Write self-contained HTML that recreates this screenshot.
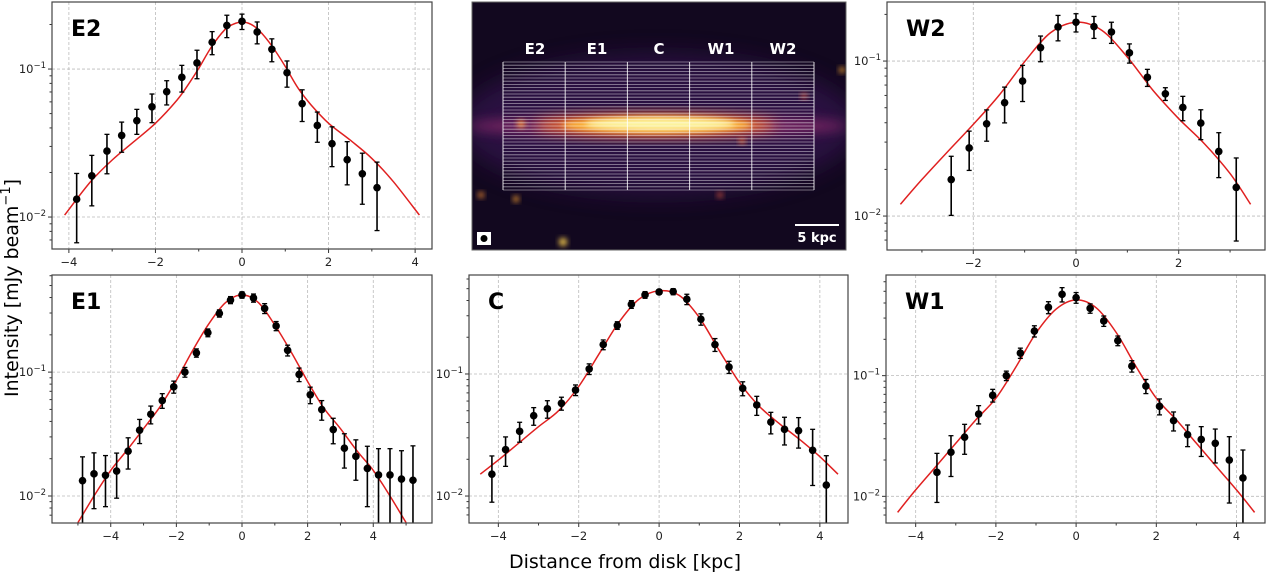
<!DOCTYPE html>
<html><head><meta charset="utf-8"><style>
html,body{margin:0;padding:0;background:#fff;}
svg{display:block;font-family:"DejaVu Sans","Liberation Sans",sans-serif;}
</style></head><body>
<svg id="fig" width="1268" height="572" viewBox="0 0 1268 572">
<defs>
<filter id="blur3" x="-50%" y="-50%" width="200%" height="200%"><feGaussianBlur stdDeviation="3"/></filter>
<filter id="blur6" x="-50%" y="-50%" width="200%" height="200%"><feGaussianBlur stdDeviation="6"/></filter>
<filter id="blur12" x="-50%" y="-50%" width="200%" height="200%"><feGaussianBlur stdDeviation="12"/></filter>
<clipPath id="imgclip"><rect x="472" y="2" width="374" height="248"/></clipPath>
</defs>
<g id="image-panel">
<g clip-path="url(#imgclip)">
<rect x="472" y="2" width="374" height="248" fill="#12081f"/>
<ellipse cx="658" cy="125" rx="200" ry="70" fill="#3a1458" opacity="0.6" filter="url(#blur12)"/>
<ellipse cx="658" cy="126" rx="190" ry="10" fill="#8a2a6a" opacity="0.85" filter="url(#blur6)"/>
<ellipse cx="655" cy="125" rx="120" ry="10" fill="#ee6a20" filter="url(#blur6)"/>
<ellipse cx="657" cy="125" rx="95" ry="8" fill="#fbb33a" filter="url(#blur3)"/>
<ellipse cx="660" cy="124" rx="75" ry="6" fill="#fcf4a0" filter="url(#blur3)"/>
<circle cx="521" cy="124" r="4" fill="#f58a30" filter="url(#blur3)"/>
<circle cx="742" cy="141" r="3" fill="#e8602a" filter="url(#blur3)"/>
<circle cx="481" cy="195" r="3" fill="#f08a30" filter="url(#blur3)"/>
<circle cx="516" cy="199" r="3" fill="#f8a030" filter="url(#blur3)"/>
<circle cx="563" cy="242" r="4" fill="#fcd050" filter="url(#blur3)"/>
<circle cx="720" cy="195" r="3" fill="#c04a3a" filter="url(#blur3)"/>
<circle cx="804" cy="96" r="3" fill="#d0503a" filter="url(#blur3)"/>
<circle cx="842" cy="70" r="3" fill="#f0a030" filter="url(#blur3)"/>
</g>
<g id="grid-lines"></g>
<text x="535" y="54" fill="#fff" font-size="15" font-weight="bold" text-anchor="middle">E2</text>
<text x="597" y="54" fill="#fff" font-size="15" font-weight="bold" text-anchor="middle">E1</text>
<text x="659" y="54" fill="#fff" font-size="15" font-weight="bold" text-anchor="middle">C</text>
<text x="721" y="54" fill="#fff" font-size="15" font-weight="bold" text-anchor="middle">W1</text>
<text x="783" y="54" fill="#fff" font-size="15" font-weight="bold" text-anchor="middle">W2</text>
<line x1="795" y1="225" x2="839" y2="225" stroke="#fff" stroke-width="2"/>
<text x="817" y="242" fill="#fff" font-size="13" font-weight="bold" text-anchor="middle">5 kpc</text>
<rect x="477" y="232" width="14" height="13" fill="#fff"/>
<circle cx="484" cy="238.5" r="3.5" fill="#000"/>
<rect x="472" y="2" width="374" height="248" fill="none" stroke="#666" stroke-width="1"/>
</g>
<text x="0" y="0" transform="translate(18,288) rotate(-90)" font-size="19" text-anchor="middle">Intensity [mJy beam<tspan dy="-8" font-size="13">−1</tspan><tspan dy="8">]</tspan></text>
<text x="625" y="568" font-size="19" text-anchor="middle">Distance from disk [kpc]</text>
</svg>
<script>
// ---- data ----
const e2X=[-3.82,-3.47,-3.12,-2.78,-2.43,-2.08,-1.74,-1.39,-1.04,-0.69,-0.35,0,0.35,0.69,1.04,1.39,1.74,2.08,2.43,2.78,3.12];
const e2Y=[0.0132,0.0190,0.0279,0.0356,0.0448,0.0556,0.0703,0.0879,0.110,0.152,0.197,0.210,0.178,0.136,0.0944,0.0583,0.0416,0.0313,0.0244,0.0196,0.0158];
const e2Err=[0.0065,0.0071,0.0083,0.0082,0.0086,0.0122,0.0131,0.018,0.024,0.027,0.034,0.025,0.030,0.024,0.019,0.0141,0.0096,0.0094,0.0079,0.0074,0.0077];
const e2FitX=[-4.1,-3.5,-3.0,-2.5,-2.0,-1.5,-1.2,-1.0,-0.7,-0.4,-0.2,0,0.2,0.4,0.7,1.0,1.3,1.6,2.0,2.5,3.0,3.5,4.1];
const e2FitY=[0.0103,0.0173,0.0243,0.0323,0.0430,0.0618,0.082,0.101,0.142,0.184,0.201,0.208,0.201,0.182,0.142,0.104,0.074,0.0571,0.0430,0.0331,0.0249,0.0173,0.0103];

const w2X=[-2.43,-2.08,-1.74,-1.39,-1.04,-0.69,-0.35,0,0.35,0.69,1.04,1.39,1.74,2.08,2.43,2.78,3.12];
const w2Y=[0.0172,0.0275,0.0394,0.0539,0.0743,0.122,0.166,0.178,0.167,0.154,0.113,0.0785,0.0615,0.0502,0.0398,0.0261,0.0153];
const w2Err=[0.0071,0.0078,0.009,0.014,0.0195,0.023,0.031,0.024,0.027,0.024,0.016,0.0099,0.0058,0.009,0.0087,0.0084,0.0084];
const w2FitX=[-3.42,-3.0,-2.5,-2.0,-1.5,-1.0,-0.5,0,0.5,1.0,1.5,2.0,2.5,3.0,3.4];
const w2FitY=[0.0119,0.0172,0.0260,0.0390,0.0600,0.099,0.152,0.178,0.158,0.106,0.0647,0.0425,0.0293,0.0188,0.0119];

const e1X=[-4.86,-4.51,-4.16,-3.82,-3.47,-3.12,-2.78,-2.43,-2.08,-1.74,-1.39,-1.04,-0.69,-0.35,0,0.35,0.69,1.04,1.39,1.74,2.08,2.43,2.78,3.12,3.47,3.82,4.16,4.51,4.86,5.21];
const e1Y=[0.0133,0.0151,0.0147,0.0159,0.0230,0.0340,0.0457,0.0590,0.0761,0.100,0.143,0.208,0.298,0.382,0.420,0.397,0.327,0.236,0.150,0.0958,0.0656,0.0499,0.0344,0.0243,0.0209,0.0167,0.0148,0.0148,0.0137,0.0134];
const e1Err=[0.0074,0.0072,0.0065,0.0063,0.0065,0.0075,0.0075,0.008,0.0085,0.009,0.011,0.015,0.02,0.025,0.025,0.03,0.03,0.02,0.015,0.012,0.01,0.009,0.008,0.0075,0.0075,0.0085,0.0093,0.0093,0.0095,0.012];
const e1FitX=[-5.0,-4.5,-4.0,-3.5,-3.0,-2.5,-2.0,-1.5,-1.0,-0.5,0,0.5,1.0,1.5,2.0,2.5,3.0,3.5,4.0,4.5,5.0];
const e1FitY=[0.0061,0.0101,0.0161,0.0235,0.035,0.0525,0.086,0.150,0.248,0.364,0.42,0.364,0.24,0.145,0.084,0.051,0.035,0.0232,0.0161,0.0101,0.0061];

const cX=[-4.16,-3.82,-3.47,-3.12,-2.78,-2.43,-2.08,-1.74,-1.39,-1.04,-0.69,-0.35,0,0.35,0.69,1.04,1.39,1.74,2.08,2.43,2.78,3.12,3.47,3.82,4.16];
const cY=[0.0151,0.0240,0.0339,0.0455,0.0519,0.0575,0.0739,0.110,0.174,0.250,0.372,0.445,0.470,0.473,0.410,0.281,0.174,0.114,0.0763,0.0557,0.0404,0.0352,0.0343,0.0237,0.0123];
const cErr=[0.0062,0.0065,0.0063,0.0075,0.0085,0.007,0.0074,0.011,0.016,0.018,0.027,0.028,0.02,0.027,0.04,0.03,0.021,0.013,0.010,0.0099,0.0081,0.009,0.0096,0.0115,0.0091];
const cFitX=[-4.45,-4,-3.5,-3,-2.5,-2,-1.5,-1,-0.5,0,0.5,1,1.5,2,2.5,3,3.5,4,4.45];
const cFitY=[0.0151,0.0197,0.027,0.037,0.050,0.079,0.145,0.265,0.41,0.48,0.44,0.29,0.155,0.085,0.054,0.039,0.029,0.021,0.0151];

const w1X=[-3.47,-3.12,-2.78,-2.43,-2.08,-1.74,-1.39,-1.04,-0.69,-0.35,0,0.35,0.69,1.04,1.39,1.74,2.08,2.43,2.78,3.12,3.47,3.82,4.16];
const w1Y=[0.0158,0.0232,0.0309,0.0481,0.0687,0.100,0.154,0.234,0.368,0.472,0.443,0.361,0.284,0.195,0.120,0.082,0.0557,0.0424,0.0324,0.0296,0.0275,0.0200,0.0142];
const w1Err=[0.0069,0.0086,0.0086,0.0083,0.0083,0.009,0.015,0.025,0.042,0.064,0.045,0.032,0.028,0.018,0.013,0.011,0.0084,0.0076,0.0066,0.0082,0.0086,0.0112,0.010];
const w1FitX=[-4.45,-4,-3.5,-3,-2.5,-2,-1.5,-1,-0.5,0,0.5,1,1.5,2,2.5,3,3.5,4,4.45];
const w1FitY=[0.00736,0.0113,0.0176,0.0275,0.043,0.0650,0.118,0.225,0.355,0.424,0.365,0.228,0.118,0.0650,0.043,0.0275,0.0176,0.0113,0.00736];

const xTicksE2=[-4,-2,0,2,4];
const xTicksW2=[-2,0,2];
const xTicksBottom=[-4,-2,0,2,4];
const yDecades=[-2,-1];

const NS='http://www.w3.org/2000/svg';
const svg=document.getElementById('fig');
function mk(tag,attrs,parent){const e=document.createElementNS(NS,tag);for(const k in attrs)e.setAttribute(k,attrs[k]);(parent||svg).appendChild(e);return e;}

const gl=document.getElementById('grid-lines');
for(let i=0;i<=5;i++){const l=mk('line',{x1:503+i*62.2,y1:62,x2:503+i*62.2,y2:190,stroke:'#fff','stroke-width':1,opacity:0.85},gl);

}
for(let i=0;i<=40;i++){const y=62+i*3.2;const l=mk('line',{x1:503,y1:y,x2:814,y2:y,stroke:'#fff','stroke-width':0.8,opacity:0.55},gl);

}

function smoothPath(p){
 let d='M'+p[0][0].toFixed(1)+','+p[0][1].toFixed(1);
 for(let i=0;i<p.length-1;i++){
  const p0=p[Math.max(i-1,0)],p1=p[i],p2=p[i+1],p3=p[Math.min(i+2,p.length-1)];
  const c1x=p1[0]+(p2[0]-p0[0])/6,c1y=p1[1]+(p2[1]-p0[1])/6;
  const c2x=p2[0]-(p3[0]-p1[0])/6,c2y=p2[1]-(p3[1]-p1[1])/6;
  d+=' C'+c1x.toFixed(1)+','+c1y.toFixed(1)+' '+c2x.toFixed(1)+','+c2y.toFixed(1)+' '+p2[0].toFixed(1)+','+p2[1].toFixed(1);
 }
 return d;
}

function panel(cfg){
 const g=mk('g',{});
 
 
 const L=cfg.box[0],T=cfg.box[1],R=cfg.box[2],B=cfg.box[3];
 const sx=v=>L+(v-cfg.xlim[0])/(cfg.xlim[1]-cfg.xlim[0])*(R-L);
 const sy=v=>T+(cfg.ylim[1]-Math.log10(v))/(cfg.ylim[1]-cfg.ylim[0])*(B-T);
 cfg.xticks.forEach(t=>{const l=mk('line',{x1:sx(t),x2:sx(t),y1:T,y2:B,stroke:'#bbb','stroke-dasharray':'3,2','stroke-width':0.8},g);
  
  
  mk('line',{x1:sx(t),x2:sx(t),y1:B,y2:B+4,stroke:'#333'},g);
  const tx=mk('text',{x:sx(t),y:B+17,'font-size':11.5,'text-anchor':'middle',fill:'#222'},g);
  tx.textContent=(t<0?'−':'')+Math.abs(t);
  
  });
 for(let t=Math.ceil(cfg.xlim[0]);t<=cfg.xlim[1];t++){if(t%2!==0)mk('line',{x1:sx(t),x2:sx(t),y1:B,y2:B+2.5,stroke:'#333'},g);}
 yDecades.forEach(d=>{const v=Math.pow(10,d);const y=sy(v);
  const l=mk('line',{x1:L,x2:R,y1:y,y2:y,stroke:'#bbb','stroke-dasharray':'3,2','stroke-width':0.8},g);
  
  
  mk('line',{x1:L-4,x2:L,y1:y,y2:y,stroke:'#333'},g);
  const tx=mk('text',{x:L-6,y:y+4,'font-size':11.5,'text-anchor':'end',fill:'#222'},g);
  
  
  tx.innerHTML='10<tspan dy="-5" font-size="8.5">−'+(-d)+'</tspan>';
 });
 for(let d=-3;d<=0;d++)for(let m=2;m<=9;m++){const lv=d+Math.log10(m);if(lv>cfg.ylim[0]&&lv<cfg.ylim[1]){const y=sy(Math.pow(10,lv));mk('line',{x1:L-2.5,x2:L,y1:y,y2:y,stroke:'#333'},g);}}
 const pts=cfg.fitX.map((x,i)=>[sx(x),sy(cfg.fitY[i])]);
 const pl=mk('path',{d:smoothPath(pts),fill:'none',stroke:'#e02020','stroke-width':1.5,'stroke-linejoin':'round'},g);
 
 
 cfg.x.forEach((x,i)=>{const v=cfg.y[i],e=cfg.err[i];const px=sx(x);
  const lo=Math.max(v-e,Math.pow(10,cfg.ylim[0]-0.3));
  let yt=sy(v+e),yb=Math.min(sy(lo),B);
  const bar=mk('line',{x1:px,x2:px,y1:yt,y2:yb,stroke:'#000','stroke-width':1.6},g);
  
  
  mk('line',{x1:px-2.5,x2:px+2.5,y1:yt,y2:yt,stroke:'#000','stroke-width':1.3},g);
  if(v-e>Math.pow(10,cfg.ylim[0]))mk('line',{x1:px-2.5,x2:px+2.5,y1:yb,y2:yb,stroke:'#000','stroke-width':1.3},g);
  const c=mk('circle',{cx:px,cy:sy(v),r:3.8,fill:'#000'},g);
  
  });
 mk('rect',{x:L,y:T,width:R-L,height:B-T,fill:'none',stroke:'#444','stroke-width':1.2},g);
 const lab=mk('text',{x:L+19,y:T+34,'font-size':22,'font-weight':'bold',fill:'#000'},g);
 lab.textContent=cfg.label;
 
 
}
panel({name:'panel-e2',label:'E2',box:[52,2,432,249],xlim:[-4.39,4.39],ylim:[-2.216,-0.547],xticks:xTicksE2,x:e2X,y:e2Y,err:e2Err,fitX:e2FitX,fitY:e2FitY});
panel({name:'panel-w2',label:'W2',box:[887,2,1265,250],xlim:[-3.68,3.68],ylim:[-2.219,-0.619],xticks:xTicksW2,x:w2X,y:w2Y,err:w2Err,fitX:w2FitX,fitY:w2FitY});
panel({name:'panel-e1',label:'E1',box:[52,275,432,523],xlim:[-5.79,5.79],ylim:[-2.218,-0.216],xticks:xTicksBottom,x:e1X,y:e1Y,err:e1Err,fitX:e1FitX,fitY:e1FitY});
panel({name:'panel-c',label:'C',box:[469,275,848,523],xlim:[-4.73,4.70],ylim:[-2.221,-0.189],xticks:xTicksBottom,x:cX,y:cY,err:cErr,fitX:cFitX,fitY:cFitY});
panel({name:'panel-w1',label:'W1',box:[886,275,1265,523],xlim:[-4.74,4.71],ylim:[-2.221,-0.166],xticks:xTicksBottom,x:w1X,y:w1Y,err:w1Err,fitX:w1FitX,fitY:w1FitY});
</script>
</body></html>
